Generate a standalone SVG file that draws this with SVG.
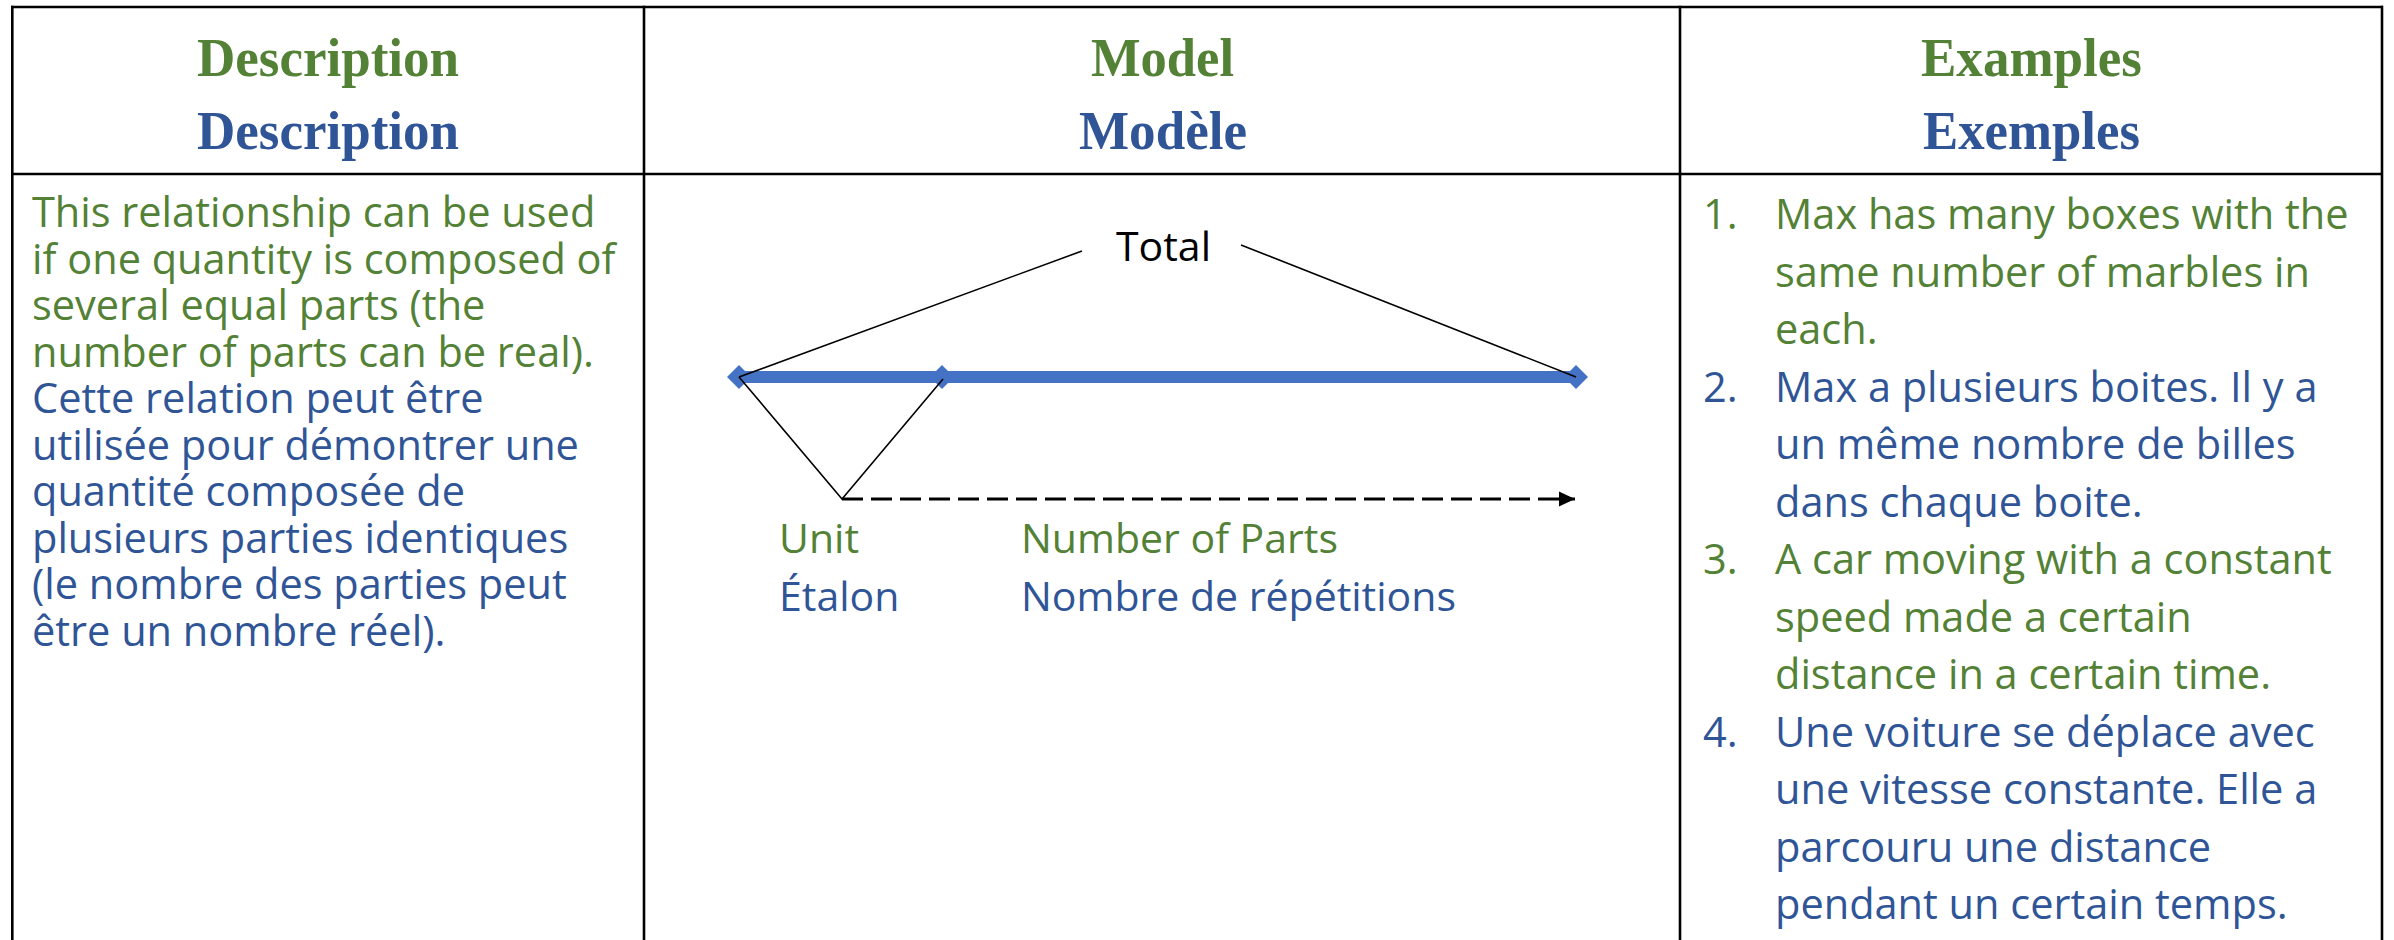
<svg xmlns="http://www.w3.org/2000/svg" width="2394" height="940" viewBox="0 0 2394 940">
  <defs>
    <style>
      .grid { stroke: #000; stroke-width: 2.6; fill: none; }
      .head { font-family: "Liberation Serif", "Times New Roman", serif; font-weight: bold; font-size: 55px; text-anchor: middle; }
      .body { font-family: "Open Sans", "Noto Sans", sans-serif; font-size: 41.5px; }
      .en { fill: #538135; }
      .fr { fill: #2F5597; }
      .lbl { font-family: "Open Sans", "Noto Sans", sans-serif; font-size: 41px; }
      .thin { stroke: #000; stroke-width: 1.6; fill: none; }
      .bar { stroke: #4472C4; stroke-width: 12; fill: none; }
      .dash { stroke: #000; stroke-width: 3; stroke-dasharray: 21 8; fill: none; }
    </style>
    <marker id="diamond" markerUnits="userSpaceOnUse" viewBox="0 0 24 24" markerWidth="24" markerHeight="24" refX="12" refY="12" orient="0">
      <path d="M12 0 L24 12 L12 24 L0 12 Z" fill="#4472C4"/>
    </marker>
    <marker id="arrow" markerUnits="userSpaceOnUse" viewBox="0 0 16 16" markerWidth="16" markerHeight="16" refX="16" refY="8" orient="auto">
      <path d="M0 0.5 L16 8 L0 15.5 Z" fill="#000"/>
    </marker>
  </defs>

  <rect width="2394" height="940" fill="#fff"/>

  <!-- table rules -->
  <g id="table-grid" class="grid">
    <line x1="11" y1="7" x2="2383" y2="7"/>
    <line x1="11" y1="174" x2="2383" y2="174"/>
    <line x1="12.3" y1="5.7" x2="12.3" y2="940"/>
    <line x1="644" y1="5.7" x2="644" y2="940"/>
    <line x1="1680" y1="5.7" x2="1680" y2="940"/>
    <line x1="2382" y1="5.7" x2="2382" y2="940"/>
  </g>

  <!-- column headings -->
  <g id="head-description" class="head">
    <text class="en" x="328" y="76" textLength="262" lengthAdjust="spacingAndGlyphs">Description</text>
    <text class="fr" x="328" y="149" textLength="262" lengthAdjust="spacingAndGlyphs">Description</text>
  </g>
  <g id="head-model" class="head">
    <text class="en" x="1162.5" y="76" textLength="143" lengthAdjust="spacingAndGlyphs">Model</text>
    <text class="fr" x="1163" y="149" textLength="168" lengthAdjust="spacingAndGlyphs">Modèle</text>
  </g>
  <g id="head-examples" class="head">
    <text class="en" x="2031.5" y="76" textLength="221" lengthAdjust="spacingAndGlyphs">Examples</text>
    <text class="fr" x="2031.5" y="149" textLength="217" lengthAdjust="spacingAndGlyphs">Exemples</text>
  </g>

  <!-- description cell -->
  <g id="description" class="body">
    <text class="en" x="32" y="227">This relationship can be used</text>
    <text class="en" x="32" y="273.5">if one quantity is composed of</text>
    <text class="en" x="32" y="320">several equal parts (the</text>
    <text class="en" x="32" y="366.5">number of parts can be real).</text>
    <text class="fr" x="32" y="413">Cette relation peut être</text>
    <text class="fr" x="32" y="459.5">utilisée pour démontrer une</text>
    <text class="fr" x="32" y="506">quantité composée de</text>
    <text class="fr" x="32" y="552.5">plusieurs parties identiques</text>
    <text class="fr" x="32" y="599">(le nombre des parties peut</text>
    <text class="fr" x="32" y="645.5">être un nombre réel).</text>
  </g>

  <!-- model diagram: labels -->
  <g id="node-total" class="lbl">
    <text x="1116" y="261" fill="#000">Total</text>
  </g>
  <g id="node-unit" class="lbl">
    <text class="en" x="779" y="553">Unit</text>
    <text class="fr" x="779" y="611">Étalon</text>
  </g>
  <g id="node-parts" class="lbl">
    <text class="en" x="1021" y="553">Number of Parts</text>
    <text class="fr" x="1021" y="611">Nombre de répétitions</text>
  </g>

  <!-- model diagram: bar, braces and repetition arrow -->
  <g id="connectors">
    <path class="bar" d="M739 377 L942 377 L1576 377" marker-start="url(#diamond)" marker-mid="url(#diamond)" marker-end="url(#diamond)"/>
    <line class="thin" x1="739" y1="377" x2="1082" y2="251"/>
    <line class="thin" x1="1241" y1="245" x2="1576" y2="377"/>
    <polyline class="thin" points="739,377 842,499 943,379"/>
    <line class="dash" x1="842" y1="499" x2="1575" y2="499" marker-end="url(#arrow)"/>
  </g>

  <!-- examples cell -->
  <g id="examples" class="body">
    <text class="en" x="1703" y="229">1.</text>
    <text class="en" x="1775" y="229">Max has many boxes with the</text>
    <text class="en" x="1775" y="286.5">same number of marbles in</text>
    <text class="en" x="1775" y="344">each.</text>
    <text class="fr" x="1703" y="401.5">2.</text>
    <text class="fr" x="1775" y="401.5">Max a plusieurs boites. Il y a</text>
    <text class="fr" x="1775" y="459">un même nombre de billes</text>
    <text class="fr" x="1775" y="516.5">dans chaque boite.</text>
    <text class="en" x="1703" y="574">3.</text>
    <text class="en" x="1775" y="574">A car moving with a constant</text>
    <text class="en" x="1775" y="631.5">speed made a certain</text>
    <text class="en" x="1775" y="689">distance in a certain time.</text>
    <text class="fr" x="1703" y="746.5">4.</text>
    <text class="fr" x="1775" y="746.5">Une voiture se déplace avec</text>
    <text class="fr" x="1775" y="804">une vitesse constante. Elle a</text>
    <text class="fr" x="1775" y="861.5">parcouru une distance</text>
    <text class="fr" x="1775" y="919">pendant un certain temps.</text>
  </g>
</svg>
